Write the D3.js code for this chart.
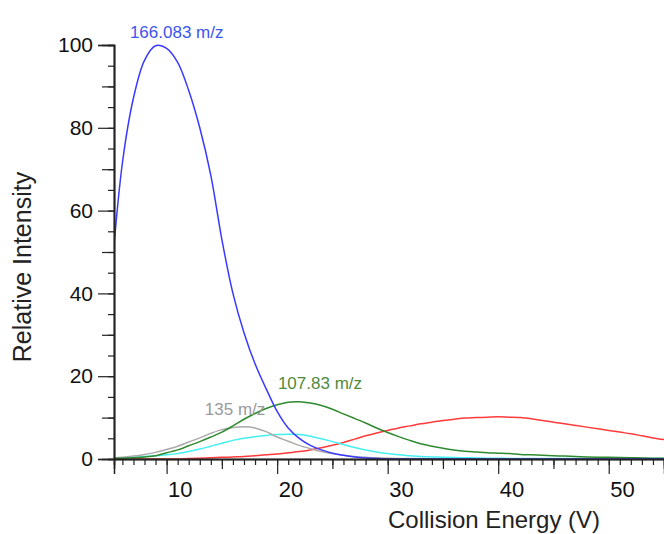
<!DOCTYPE html>
<head>
  <meta charset="utf-8">
  <script src="https://d3js.org/d3.v7.min.js"></script>
  <style>
    body { margin:0; background:#fff; }
    svg { display:block; font-family:"Liberation Sans", Arial, Helvetica, sans-serif; }
  </style>
</head>
<body>
<div id="chart"></div>
<script>

  // collision energy (V) where each curve was read
  var energy = d3.range(5, 56);

  // relative intensity, one value per energy step
  var mz166 = [44, 71.5, 87.2, 96.3, 99.8, 99.2, 95.8, 89, 80, 68.5,
               53, 40, 30.5, 23, 17, 11.5, 7.5, 5, 3.3, 2.2,
               1.4, 0.9, 0.5, 0.25, 0.1, 0, 0, 0, 0, 0,
               0, 0, 0, 0, 0, 0, 0, 0, 0, 0,
               0, 0, 0, 0, 0, 0, 0, 0, 0, 0, 0];
  var mz107 = [0.1, 0.2, 0.3, 0.5, 0.8, 1.5, 2.2, 3.2, 4.2, 5.3,
               6.5, 8, 9.6, 11, 12.2, 13.1, 13.7, 13.8, 13.5, 12.9,
               12, 10.9, 9.8, 8.7, 7.5, 6.4, 5.4, 4.5, 3.7, 3.1,
               2.6, 2.2, 1.9, 1.7, 1.5, 1.4, 1.3, 1.1, 1.0, 0.9,
               0.8, 0.7, 0.6, 0.5, 0.45, 0.4, 0.35, 0.3, 0.25, 0.2, 0.2];
  var mz135 = [0.2, 0.4, 0.7, 1.1, 1.6, 2.3, 3.1, 4.1, 5.1, 6.2,
               7.1, 7.6, 7.8, 7.5, 6.6, 5.3, 4.3, 3.3, 2.5, 1.8,
               1.3, 0.9, 0.6, 0.4, 0.3, 0.2, 0.1, 0.1, 0.1, 0.05,
               0.05, 0, 0, 0, 0, 0, 0, 0, 0, 0,
               0, 0, 0, 0, 0, 0, 0, 0, 0, 0, 0];
  var cyanVals = [0.1, 0.2, 0.4, 0.6, 0.8, 1.0, 1.3, 1.8, 2.4, 3.1,
               3.8, 4.5, 5.0, 5.4, 5.7, 5.9, 6.0, 5.9, 5.5, 4.9,
               4.2, 3.5, 2.8, 2.2, 1.7, 1.3, 1.0, 0.8, 0.6, 0.5,
               0.4, 0.35, 0.3, 0.25, 0.2, 0.2, 0.15, 0.15, 0.1, 0.1,
               0.1, 0.1, 0.1, 0.1, 0.1, 0.1, 0.1, 0.1, 0.1, 0.1, 0.1];
  var redVals = [0, 0, 0, 0, 0, 0, 0, 0.1, 0.2, 0.3,
               0.4, 0.5, 0.6, 0.8, 1.0, 1.2, 1.5, 1.8, 2.2, 2.7,
               3.3, 4.0, 4.8, 5.6, 6.3, 6.9, 7.5, 8.0, 8.5, 8.9,
               9.3, 9.6, 9.9, 10.0, 10.1, 10.2, 10.1, 10.0, 9.7, 9.3,
               8.9, 8.5, 8.1, 7.7, 7.3, 6.9, 6.5, 6.1, 5.6, 5.1, 4.7];

  var seriesNames  = ['166.083 m/z', '107.83 m/z', '135 m/z', 'cyan', 'red'];
  var seriesVals   = [mz166, mz107, mz135, cyanVals, redVals];
  var seriesColors = ['#3a3aff', '#2f8a2f', '#aaaaaa', '#44f0f0', '#ff3a3a'];

  // label positions in data units (energy, intensity)
  var labelText  = ['166.083 m/z', '107.83 m/z', '135 m/z'];
  var labelPos   = [[6.68, 101.7], [20.07, 16.9], [13.46, 10.6]];
  var labelColor = ['#3d55f0', '#4f8a3c', '#9a9a9a'];

  var yTicks = [0, 20, 40, 60, 80, 100];
  var xTicks = [10, 20, 30, 40, 50];

  var width = 664, height = 534;
  var margin = {left:114, right:0, top:45, bottom:75};

  var svg = d3.select('#chart').append('svg')
      .attr('width', width)
      .attr('height', height);

  var x = d3.scaleLinear().domain([5.24, 55]).range([margin.left, width - margin.right]);
  var y = d3.scaleLinear().domain([0, 100]).range([height - margin.bottom, margin.top]);

  svg.append('clipPath').attr('id', 'plot')
    .append('rect')
      .attr('x', margin.left)
      .attr('y', 0)
      .attr('width', width - margin.left)
      .attr('height', height - margin.bottom + 1);

  // curves
  var line = d3.line()
      .x(function(d) { return x(d[0]); })
      .y(function(d) { return y(d[1]); })
      .curve(d3.curveCatmullRom);

  // draw red first, blue last like the original stacking
  var order = [4, 3, 2, 1, 0];
  svg.append('g').attr('clip-path', 'url(#plot)')
    .selectAll('path')
    .data(order)
    .enter().append('path')
      .attr('d', function(i) {
        return line(energy.map(function(e, k) { return [e, seriesVals[i][k]]; }));
      })
      .attr('fill', 'none')
      .attr('stroke', function(i) { return seriesColors[i]; })
      .attr('stroke-width', 1.5);

  // y axis: major every 20, medium every 10, minor every 5
  var yAxisMinor = d3.axisLeft(y).tickValues(d3.range(0, 101, 5)).tickSize(6).tickFormat('');
  var yAxisMid = d3.axisLeft(y).tickValues(d3.range(10, 101, 20)).tickSize(12).tickFormat('');
  var yAxis = d3.axisLeft(y).tickValues(yTicks).tickSize(16).tickPadding(5);

  [yAxisMinor, yAxisMid, yAxis].forEach(function(ax) {
    svg.append('g')
        .attr('class', 'yaxis')
        .attr('transform', 'translate(' + margin.left + ',0)')
        .call(ax);
  });

  // x axis: major every 10, medium every 5, minor every 1
  var xAxisMinor = d3.axisBottom(x).tickValues(d3.range(6, 56, 1)).tickSize(6).tickFormat('');
  var xAxisMid = d3.axisBottom(x).tickValues(d3.range(15, 56, 10)).tickSize(10).tickFormat('');
  var xAxis = d3.axisBottom(x).tickValues(xTicks).tickSize(15).tickPadding(7);

  [xAxisMinor, xAxisMid, xAxis].forEach(function(ax) {
    svg.append('g')
        .attr('class', 'xaxis')
        .attr('transform', 'translate(0,' + y(0) + ')')
        .call(ax);
  });

  svg.selectAll('.domain').attr('stroke', '#222').attr('stroke-width', 1.5);
  svg.selectAll('.tick line').attr('stroke', '#222').attr('stroke-width', 1.2);
  svg.selectAll('.yaxis .tick text')
      .attr('font-size', 21)
      .attr('font-family', '"Liberation Sans", Arial, sans-serif')
      .attr('fill', '#111');
  svg.selectAll('.xaxis .tick text')
      .attr('font-size', 22)
      .attr('font-family', '"Liberation Sans", Arial, sans-serif')
      .attr('fill', '#111')
      .attr('text-anchor', 'start')
      .attr('x', 1);

  // series labels
  svg.append('g').selectAll('text')
    .data(labelText)
    .enter().append('text')
      .attr('x', function(d, i) { return x(labelPos[i][0]); })
      .attr('y', function(d, i) { return y(labelPos[i][1]); })
      .attr('fill', function(d, i) { return labelColor[i]; })
      .attr('font-size', 17)
      .text(function(d) { return d; });

  // axis titles
  svg.append('text')
      .attr('x', 388)
      .attr('y', 528)
      .attr('font-size', 24)
      .attr('fill', '#222')
      .text('Collision Energy (V)');

  svg.append('text')
      .attr('transform', 'translate(31,267) rotate(-90)')
      .attr('text-anchor', 'middle')
      .attr('font-size', 25)
      .attr('fill', '#222')
      .text('Relative Intensity');

</script>
</body>
